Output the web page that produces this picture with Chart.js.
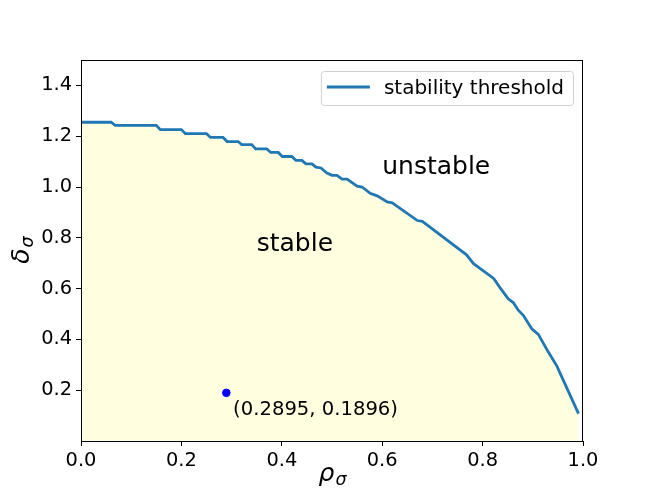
<!DOCTYPE html>
<html>
<head>
<meta charset="utf-8">
<script src="https://cdn.jsdelivr.net/npm/chart.js@4.4.1/dist/chart.umd.min.js"></script>
<style>
  html, body { margin: 0; padding: 0; background: #fff; }
  #wrap { width: 648px; height: 504px; }
</style>
</head>
<body>
<div id="wrap"><canvas id="stabChart" width="648" height="504"></canvas></div>
<script>
// threshold curve
const rho = [0.000, 0.060, 0.068, 0.150, 0.158, 0.200, 0.208, 0.250, 0.258, 0.283,
             0.291, 0.313, 0.320, 0.340, 0.348, 0.370, 0.378, 0.393, 0.401, 0.420,
             0.428, 0.440, 0.448, 0.460, 0.468, 0.478, 0.490, 0.500, 0.510, 0.520,
             0.530, 0.550, 0.560, 0.576, 0.590, 0.610, 0.620, 0.670, 0.680, 0.768,
             0.782, 0.822, 0.835, 0.851, 0.861, 0.871, 0.881, 0.898, 0.911, 0.931,
             0.948, 0.991];
const delta = [1.255, 1.255, 1.243, 1.243, 1.226, 1.226, 1.210, 1.210, 1.195, 1.195,
               1.179, 1.179, 1.167, 1.167, 1.150, 1.150, 1.136, 1.136, 1.120, 1.120,
               1.105, 1.105, 1.091, 1.091, 1.078, 1.075, 1.055, 1.046, 1.046, 1.031,
               1.031, 1.003, 1.000, 0.975, 0.965, 0.941, 0.938, 0.868, 0.865, 0.733,
               0.698, 0.640, 0.603, 0.560, 0.545, 0.515, 0.495, 0.442, 0.420, 0.350,
               0.295, 0.108];
const pointRho = [0.2895];
const pointDelta = [0.1896];
const xTicks = [0.0, 0.2, 0.4, 0.6, 0.8, 1.0];
const yTicks = [0.2, 0.4, 0.6, 0.8, 1.0, 1.2, 1.4];
const regionLabels = ['stable', 'unstable'];
const regionX = [0.35, 0.6];
const regionY = [0.75, 1.05];

const FONT = 'DejaVu Sans';
const tickFont = { family: FONT, size: 19.4 };

function drawLabel(ctx, main, sub, x, y, rotate) {
  ctx.save();
  ctx.translate(x, y);
  if (rotate) ctx.rotate(-Math.PI / 2);
  ctx.fillStyle = '#000';
  ctx.textBaseline = 'alphabetic';
  ctx.font = 'italic 25px "' + FONT + '"';
  const w1 = ctx.measureText(main).width;
  ctx.font = 'italic 17.5px "' + FONT + '"';
  const w2 = ctx.measureText(sub).width;
  const start = -(w1 + w2) / 2;
  ctx.font = 'italic 25px "' + FONT + '"';
  ctx.textAlign = 'left';
  ctx.fillText(main, start, 0);
  ctx.font = 'italic 17.5px "' + FONT + '"';
  ctx.fillText(sub, start + w1 + 1, 4);
  ctx.restore();
}

const decor = {
  id: 'decor',
  afterDatasetsDraw(chart) {
    const ctx = chart.ctx;
    const ca = chart.chartArea;
    const xs = chart.scales.x, ys = chart.scales.y;
    ctx.save();
    // region labels
    ctx.fillStyle = '#000';
    ctx.font = '25px "' + FONT + '"';
    ctx.textAlign = 'left';
    ctx.textBaseline = 'alphabetic';
    for (let i = 0; i < regionLabels.length; i++) {
      ctx.fillText(regionLabels[i], xs.getPixelForValue(regionX[i]), ys.getPixelForValue(regionY[i]));
    }
    // point annotation
    ctx.font = '19.6px "' + FONT + '"';
    const txt = '(' + pointRho[0].toFixed(4) + ', ' + pointDelta[0].toFixed(4) + ')';
    ctx.fillText(txt, xs.getPixelForValue(pointRho[0] + 0.0135), ys.getPixelForValue(pointDelta[0] - 0.087));

    // frame
    ctx.strokeStyle = '#000';
    ctx.lineWidth = 1;
    ctx.strokeRect(ca.left + 0.5, ca.top + 0.5, ca.right - ca.left - 1, ca.bottom - ca.top);

    // legend
    const label = chart.data.datasets[0].label;
    ctx.font = '20px "' + FONT + '"';
    const tw = ctx.measureText(label).width;
    const boxRight = ca.right - 10;
    const textRight = boxRight - 9;
    const textLeft = textRight - tw;
    const lineEnd = textLeft - 14;
    const lineStart = lineEnd - 43;
    const boxLeft = lineStart - 6;
    const boxTop = ca.top + 11;
    const boxH = 34;
    ctx.beginPath();
    ctx.roundRect(boxLeft + 0.5, boxTop + 0.5, boxRight - boxLeft, boxH, 3);
    ctx.fillStyle = 'rgba(255,255,255,0.8)';
    ctx.fill();
    ctx.strokeStyle = '#d0d0d0';
    ctx.stroke();
    ctx.beginPath();
    ctx.moveTo(lineStart, boxTop + 16);
    ctx.lineTo(lineEnd, boxTop + 16);
    ctx.strokeStyle = '#1f77b4';
    ctx.lineWidth = 2.8;
    ctx.stroke();
    ctx.fillStyle = '#000';
    ctx.fillText(label, textLeft, boxTop + 23);

    // axis titles
    drawLabel(ctx, 'ρ', 'σ', (ca.left + ca.right) / 2, ca.bottom + 40, false);
    drawLabel(ctx, 'δ', 'σ', ca.left - 52, (ca.top + ca.bottom) / 2, true);
    ctx.restore();
  }
};

const ctx = document.getElementById('stabChart');
new Chart(ctx, {
  type: 'line',
  data: {
    datasets: [{
      label: 'stability threshold',
      data: rho.map((r, i) => ({ x: r, y: delta[i] })),
      borderColor: '#1f77b4',
      borderWidth: 2.8,
      backgroundColor: '#FFFFE0',
      fill: 'origin',
      pointRadius: 0,
      tension: 0,
      order: 1
    }, {
      label: 'point',
      type: 'scatter',
      data: pointRho.map((r, i) => ({ x: r, y: pointDelta[i] })),
      backgroundColor: 'blue',
      borderColor: 'blue',
      pointRadius: 3.8,
      order: 0
    }]
  },
  options: {
    responsive: false,
    animation: false,
    devicePixelRatio: 1,
    layout: { padding: { top: 60, right: 65, left: 0, bottom: 0 } },
    plugins: { legend: { display: false }, tooltip: { enabled: false } },
    scales: {
      x: {
        type: 'linear', min: 0, max: 1,
        afterFit: s => { s.height = 63; },
        afterBuildTicks: s => { s.ticks = xTicks.map(v => ({ value: v })); },
        grid: { display: true, drawOnChartArea: false, drawTicks: true, tickLength: 5, color: '#000' },
        border: { display: true, color: '#000', width: 1 },
        ticks: { color: '#000', font: tickFont, padding: 3, maxRotation: 0,
                 callback: v => v.toFixed(1) }
      },
      y: {
        type: 'linear', min: 0, max: 1.5,
        afterFit: s => { s.width = 81; },
        afterBuildTicks: s => { s.ticks = yTicks.map(v => ({ value: v })); },
        grid: { display: true, drawOnChartArea: false, drawTicks: true, tickLength: 5, color: '#000' },
        border: { display: true, color: '#000', width: 1 },
        ticks: { color: '#000', font: tickFont, padding: 4,
                 callback: v => v.toFixed(1) }
      }
    }
  },
  plugins: [decor]
});
</script>
</body>
</html>
